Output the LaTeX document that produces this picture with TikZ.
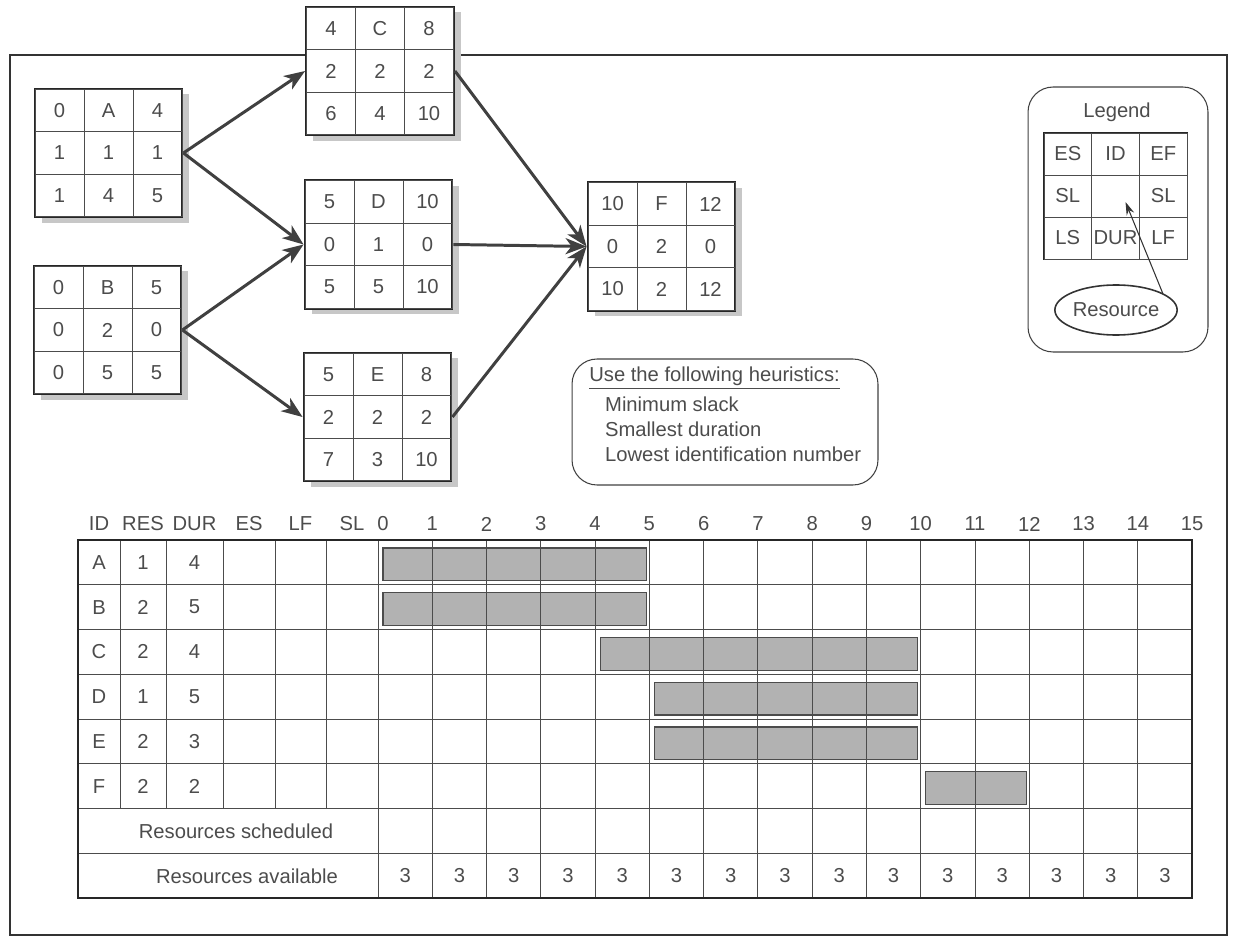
\documentclass[tikz,border=0pt]{standalone}
\usepackage{fontspec}
\setmainfont{Liberation Sans}
\usetikzlibrary{arrows.meta,positioning,matrix,shapes.geometric,shadows}

\tikzset{
  cell/.style={draw=black!70, line width=0.45pt, minimum width=0.98cm, minimum height=0.85cm, inner sep=0pt, anchor=center},
  legcell/.style={cell, minimum width=0.954cm, minimum height=0.84cm},
  act/.style={matrix of nodes, draw=black!85, line width=1.2pt, fill=white, inner sep=0pt,
    column sep=-0.45pt, row sep=-0.45pt, nodes={cell},
    drop shadow={shadow xshift=0.14cm, shadow yshift=-0.11cm, fill=black!22, opacity=1}},
  key/.style={matrix of nodes, nodes in empty cells, draw=black!85, line width=1pt, inner sep=0pt,
    column sep=-0.45pt, row sep=-0.45pt, nodes={legcell}},
  link/.style={-{Stealth[length=0.42cm, width=0.32cm, inset=0.12cm]}, line width=1.7pt, draw=black!75},
  pointer/.style={-{Stealth[length=0.26cm, width=0.16cm]}, line width=0.6pt, draw=black!80},
  roundbox/.style={draw=black!75, line width=0.6pt, rounded corners=0.5cm},
  bar/.style={fill=black!30, draw=black!70, line width=0.6pt},
  gridline/.style={draw=black!70, line width=0.5pt},
  frame/.style={draw=black!80, line width=0.7pt}
}

\begin{document}
\begin{tikzpicture}[x=0.02cm, y=-0.02cm, every node/.style={font=\fontsize{11.5}{14}\selectfont, text=black!70}]
  \useasboundingbox (0,0) rectangle (1236,942);
  \draw[frame] (10,55) rectangle (1227,935);

  % Network
  \matrix[act] (A) at (108.5,153) {0 & A & 4\\ 1 & 1 & 1\\ 1 & 4 & 5\\};
  \matrix[act] (B) at (107.5,330) {0 & B & 5\\ 0 & 2 & 0\\ 0 & 5 & 5\\};
  \matrix[act] (C) at (380,71) {4 & C & 8\\ 2 & 2 & 2\\ 6 & 4 & 10\\};
  \matrix[act] (D) at (378.5,244.5) {5 & D & 10\\ 0 & 1 & 0\\ 5 & 5 & 10\\};
  \matrix[act] (E) at (377.5,417) {5 & E & 8\\ 2 & 2 & 2\\ 7 & 3 & 10\\};
  \matrix[act] (F) at (661.5,246.5) {10 & F & 12\\ 0 & 2 & 0\\ 10 & 2 & 12\\};

  \draw[link] (A.east) -- (C.west);
  \draw[link] (A.east) -- (D.west);
  \draw[link] (B.east) -- (D.west);
  \draw[link] (B.east) -- (E.west);
  \draw[link] (C.east) -- (F.west);
  \draw[link] (D.east) -- (F.west);
  \draw[link] (E.east) -- (F.west);

  % Legend
  \node[roundbox, minimum width=3.6cm, minimum height=5.3cm] (legend) at (1118,219.5) {};
  \node (legtitle) at (1117,112) {Legend};
  \matrix[key] (keygrid) at (1115.5,196) {ES & ID & EF\\ SL & & SL\\ LS & DUR & LF\\};
  \node[ellipse, draw=black!80, line width=0.9pt, minimum width=2.32cm, minimum height=1cm, inner sep=0pt] (res) at (1116,310) {Resource};
  \draw[pointer] (res.20) -- ([xshift=0.2cm, yshift=-0.12cm]keygrid-2-2.center);

  % Heuristics
  \node[roundbox, minimum width=6.12cm, minimum height=2.52cm] (heur) at (725,422) {};
  \node[anchor=north west, align=left, inner sep=0pt] (heurtext) at (589,367)
    {\underline{Use the following heuristics:}\\[3pt]
     \hspace*{9pt}Minimum slack\\
     \hspace*{9pt}Smallest duration\\
     \hspace*{9pt}Lowest identification number};

  % Schedule table
  \foreach \lab/\x in {ID/99, RES/143, DUR/194.5, ES/249, LF/300.5, SL/352}
    \node (h\lab) at (\x,524) {\lab};
  \foreach \t in {0,...,15}
    \node (t\t) at ({378+\t*54.27+(\t==0)*5}, 524) {\t};

  \foreach \r/\s/\e in {0/0/5, 1/0/5, 2/4/10, 3/5/10, 4/5/10, 5/10/12}
    \draw[bar] ({378+\s*54.27+5}, {540+\r*44.75+8}) rectangle ({378+\e*54.27-3}, {540+(\r+1)*44.75-4});

  \foreach \k in {1,...,7}
    \draw[gridline] (78,{540+\k*44.75}) -- (1192,{540+\k*44.75});
  \foreach \x in {120,166,223,275,326}
    \draw[gridline] (\x,540) -- (\x,808.5);
  \foreach \k in {0,...,14}
    \draw[gridline] ({378+\k*54.27},540) -- ({378+\k*54.27},898);
  \draw[draw=black!85, line width=1.1pt] (78,540) rectangle (1192,898);

  \foreach \id/\res/\dur [count=\r from 0] in {A/1/4, B/2/5, C/2/4, D/1/5, E/2/3, F/2/2} {
    \node (id\id) at (99,{540+(\r+0.5)*44.75}) {\id};
    \node (res\id) at (143,{540+(\r+0.5)*44.75}) {\res};
    \node (dur\id) at (194.5,{540+(\r+0.5)*44.75}) {\dur};
  }
  \node (sched) at (236,831) {Resources scheduled};
  \node (avail) at (247,876) {Resources available};
  \foreach \t in {0,...,14}
    \node (avail\t) at ({378+(\t+0.5)*54.27},876) {3};
\end{tikzpicture}
\end{document}
